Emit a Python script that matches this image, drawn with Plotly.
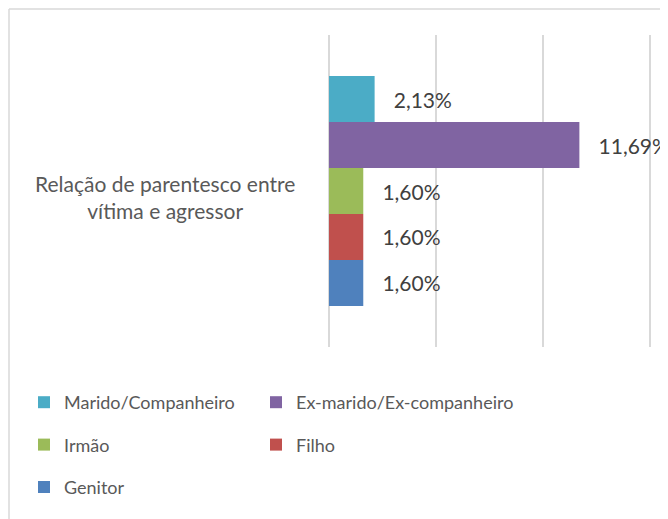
import plotly.graph_objects as go

category = ["Relação de parentesco entre vítima e agressor"]
series_names = ["Marido/Companheiro", "Ex-marido/Ex-companheiro", "Irmão", "Filho", "Genitor"]
series_values = [2.13, 11.69, 1.60, 1.60, 1.60]
series_colors = ["#4BACC6", "#8064A2", "#9BBB59", "#C0504D", "#4F81BD"]
legend_ids = ["legend", "legend2", "legend", "legend2", "legend"]

W, H = 668, 519
L, R, T, B = 321, 15, 27, 180

fig = go.Figure()
# plotly draws the first trace at the bottom -> add in reverse order
for i in reversed(range(len(series_names))):
    fig.add_trace(go.Bar(
        y=[0], x=[series_values[i]], orientation="h",
        name=series_names[i], marker=dict(color=series_colors[i], line=dict(width=0)),
        texttemplate="   %{x:.2f}%", textposition="outside", cliponaxis=False,
        textfont=dict(family="Lato", size=21, color="#404040"),
        legend=legend_ids[i], legendgroup=series_names[i], legendrank=i + 1,
        hoverinfo="skip",
    ))

fig.update_layout(
    width=W, height=H,
    margin=dict(l=L, r=R, t=T, b=B, autoexpand=False),
    plot_bgcolor="white", paper_bgcolor="white",
    separators=",.",
    barmode="group", bargap=0.263, bargroupgap=0,
    font=dict(family="Lato", size=18, color="#595959"),
    xaxis=dict(range=[0, 15.5], tickvals=[0, 5, 10, 15], showgrid=True, gridcolor="#D9D9D9",
               gridwidth=1.5, showticklabels=False, zeroline=True, zerolinecolor="#D9D9D9",
               zerolinewidth=1.5, showline=False, fixedrange=True, automargin=False),
    yaxis=dict(range=[-0.5, 0.5], showticklabels=False, showgrid=False, zeroline=False,
               showline=False, fixedrange=True, automargin=False),
    legend=dict(xref="container", yref="container", x=16 / W, y=1 - 376 / H,
                xanchor="left", yanchor="top", orientation="v", tracegroupgap=16,
                itemwidth=30, font=dict(family="Lato", size=18, color="#595959"),
                bgcolor="rgba(0,0,0,0)"),
    legend2=dict(xref="container", yref="container", x=248 / W, y=1 - 376 / H,
                 xanchor="left", yanchor="top", orientation="v", tracegroupgap=16,
                 itemwidth=30, font=dict(family="Lato", size=18, color="#595959"),
                 bgcolor="rgba(0,0,0,0)"),
    showlegend=True,
)

pw, ph = W - L - R, H - T - B
def px_x(p):
    return (p - L) / pw
def px_y(p):
    return 1 - (p - T) / ph

fig.add_annotation(
    text="Relação de parentesco entre<br>vítima e agressor",
    xref="paper", yref="paper", x=px_x(157), y=px_y(189),
    xanchor="center", yanchor="middle", align="center", showarrow=False,
    font=dict(family="Lato", size=21, color="#595959"),
)

# chart border (cropped at right/bottom)
fig.add_shape(type="line", xref="paper", yref="paper",
              x0=px_x(1), x1=px_x(W + 5), y0=px_y(1), y1=px_y(1),
              line=dict(color="#D9D9D9", width=1.5))
fig.add_shape(type="line", xref="paper", yref="paper",
              x0=px_x(1), x1=px_x(1), y0=px_y(1), y1=px_y(H + 5),
              line=dict(color="#D9D9D9", width=1.5))

fig.write_html("out.html")
